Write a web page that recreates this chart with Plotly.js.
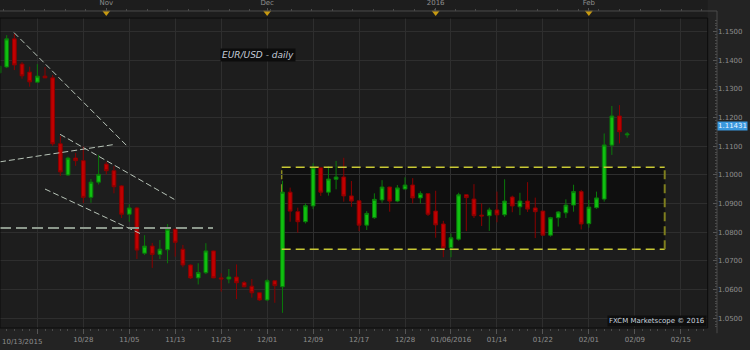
<!DOCTYPE html>
<html>
<head>
<meta charset="utf-8">
<script src="https://cdn.plot.ly/plotly-3.0.1.min.js"></script>
<style>html,body{margin:0;padding:0;background:#232323;}#chart{width:750px;height:350px;}</style>
</head>
<body>
<div id="chart"></div>
<script>
// Trading days (one candle each)
const dates = [
"2015-10-13","2015-10-14","2015-10-15","2015-10-16","2015-10-19","2015-10-20","2015-10-21","2015-10-22","2015-10-23","2015-10-26","2015-10-27","2015-10-28","2015-10-29","2015-10-30",
"2015-11-02","2015-11-03","2015-11-04","2015-11-05","2015-11-06","2015-11-09","2015-11-10","2015-11-11","2015-11-12","2015-11-13","2015-11-16","2015-11-17","2015-11-18","2015-11-19","2015-11-20","2015-11-23","2015-11-24","2015-11-25","2015-11-26","2015-11-27","2015-11-30",
"2015-12-01","2015-12-02","2015-12-03","2015-12-04","2015-12-07","2015-12-08","2015-12-09","2015-12-10","2015-12-11","2015-12-14","2015-12-15","2015-12-16","2015-12-17","2015-12-18","2015-12-21","2015-12-22","2015-12-23","2015-12-24","2015-12-28","2015-12-29","2015-12-30","2015-12-31",
"2016-01-04","2016-01-05","2016-01-06","2016-01-07","2016-01-08","2016-01-11","2016-01-12","2016-01-13","2016-01-14","2016-01-15","2016-01-18","2016-01-19","2016-01-20","2016-01-21","2016-01-22","2016-01-25","2016-01-26","2016-01-27","2016-01-28","2016-01-29",
"2016-02-01","2016-02-02","2016-02-03","2016-02-04","2016-02-05","2016-02-08"
];
const open = [1.1356,1.1377,1.1475,1.1387,1.1359,1.1324,1.1345,1.1339,1.1109,1.1000,1.1059,1.1050,1.0922,1.0975,
1.1038,1.1015,1.0962,1.0863,1.0885,1.0727,1.0752,1.0723,1.0739,1.0811,1.0741,1.0686,1.0641,1.0659,1.0735,1.0641,1.0637,1.0644,1.0625,1.0612,1.0589,
1.0564,1.0631,1.0610,1.0940,1.0872,1.0837,1.0892,1.1025,1.0940,1.0985,1.0993,1.0927,1.0910,1.0825,1.0851,1.0913,1.0958,1.0909,1.0951,1.0965,1.0920,1.0935,
1.0874,1.0829,1.0746,1.0776,1.0931,1.0916,1.0860,1.0858,1.0878,1.0861,1.0923,1.0889,1.0909,1.0885,1.0874,1.0790,1.0851,1.0868,1.0895,1.0942,
1.0830,1.0886,1.0916,1.1104,1.1206,1.1140];
const high = [1.1391,1.1488,1.1492,1.1394,1.1378,1.1387,1.1377,1.1349,1.1136,1.1064,1.1077,1.1099,1.0986,1.1070,
1.1046,1.1031,1.0965,1.0898,1.0889,1.0790,1.0763,1.0773,1.0829,1.0812,1.0756,1.0688,1.0692,1.0762,1.0736,1.0657,1.0672,1.0688,1.0630,1.0637,1.0590,
1.0636,1.0632,1.0980,1.0956,1.0886,1.0901,1.1041,1.1026,1.1031,1.1049,1.1060,1.0979,1.0911,1.0874,1.0936,1.0982,1.0959,1.0965,1.0992,1.0989,1.0943,1.0936,
1.0945,1.0840,1.0796,1.0938,1.0932,1.0968,1.0901,1.0886,1.0942,1.0985,1.0928,1.0938,1.0975,1.0921,1.0875,1.0854,1.0874,1.0915,1.0966,1.0948,
1.0913,1.0942,1.1145,1.1241,1.1244,1.1150];
const low = [1.1349,1.1373,1.1366,1.1336,1.1308,1.1322,1.1338,1.1102,1.0997,1.0997,1.1032,1.0902,1.0903,1.0967,
1.1002,1.0936,1.0850,1.0837,1.0707,1.0721,1.0676,1.0707,1.0692,1.0715,1.0678,1.0637,1.0618,1.0654,1.0640,1.0593,1.0622,1.0567,1.0608,1.0572,1.0561,
1.0560,1.0554,1.0519,1.0837,1.0799,1.0831,1.0881,1.0927,1.0928,1.0950,1.0907,1.0889,1.0804,1.0808,1.0847,1.0903,1.0872,1.0905,1.0950,1.0901,1.0901,1.0857,
1.0781,1.0713,1.0713,1.0771,1.0804,1.0850,1.0822,1.0805,1.0835,1.0854,1.0870,1.0860,1.0871,1.0780,1.0789,1.0785,1.0820,1.0850,1.0872,1.0810,
1.0816,1.0882,1.0907,1.1070,1.1110,1.1130];
const close = [1.1380,1.1475,1.1384,1.1346,1.1325,1.1345,1.1339,1.1109,1.1011,1.1059,1.1050,1.0922,1.0975,1.1002,
1.1015,1.0959,1.0863,1.0885,1.0738,1.0752,1.0723,1.0741,1.0811,1.0765,1.0686,1.0641,1.0660,1.0735,1.0641,1.0637,1.0644,1.0624,1.0610,1.0589,1.0564,
1.0631,1.0614,1.0940,1.0874,1.0837,1.0893,1.1025,1.0940,1.0986,1.0993,1.0927,1.0909,1.0825,1.0866,1.0915,1.0958,1.0909,1.0955,1.0965,1.0920,1.0935,1.0863,
1.0826,1.0746,1.0781,1.0931,1.0921,1.0858,1.0857,1.0878,1.0861,1.0909,1.0892,1.0909,1.0881,1.0872,1.0790,1.0851,1.0871,1.0895,1.0942,1.0829,
1.0888,1.0920,1.1105,1.1206,1.1151,1.11431];

// Bottom axis labels (bar index positions; future dates continue past the last bar)
const bottomTickIdx = [5, 11, 17, 23, 29, 35, 41, 47, 53, 59, 65, 71, 77, 83, 89];
const bottomTickText = ["", "10/28", "11/05", "11/13", "11/23", "12/01", "12/09", "12/17", "12/28", "01/06/2016", "01/14", "01/22", "02/01", "02/09", "02/15"];
const firstLabel = "10/13/2015";
// Top axis (month markers)
const topTickIdx = [14, 35, 57, 77];
const topTickText = ["Nov", "Dec", "2016", "Feb"];
// Y axis ticks
const yTicks = [1.05, 1.06, 1.07, 1.08, 1.09, 1.10, 1.11, 1.12, 1.13, 1.14, 1.15];

// Drawn studies (bar index, price)
const trendLines = [
  {x: [1.95, 16.87], y: [1.1497, 1.1097]},
  {x: [7.96, 22.88], y: [1.1142, 1.0915]},
  {x: [0.125, 14.92], y: [1.1046, 1.1106]},
  {x: [6.0, 18.4], y: [1.0951, 1.0796]}
];
const hLine = {x: [0.125, 27.93], y: 1.0815};
const rangeBox = {x: [36.9, 86.9], y: [1.0741, 1.1027]};

const idx = dates.map((d, i) => i);

const candles = {
  type: 'candlestick',
  x: idx, open: open, high: high, low: low, close: close,
  increasing: {line: {color: '#0a7a0a', width: 1}, fillcolor: '#10c010'},
  decreasing: {line: {color: '#8a0000', width: 1}, fillcolor: '#c00000'},
  whiskerwidth: 0,
  hoverinfo: 'skip',
  xaxis: 'x', yaxis: 'y',
  showlegend: false
};

const markers = {
  type: 'scatter', mode: 'markers',
  x: topTickIdx, y: topTickIdx.map(() => 0.3),
  marker: {symbol: 'triangle-down', size: 7, color: '#c89a10', line: {width: 0}},
  xaxis: 'x2', yaxis: 'y3', hoverinfo: 'skip', showlegend: false
};

const shapes = [];
// range box fill + dashed edges
shapes.push({type: 'rect', xref: 'x', yref: 'y', x0: rangeBox.x[0], x1: rangeBox.x[1], y0: rangeBox.y[0], y1: rangeBox.y[1],
  fillcolor: '#0f0f0f', line: {width: 0}, layer: 'below'});
shapes.push({type: 'line', xref: 'x', yref: 'y', x0: rangeBox.x[0], x1: rangeBox.x[1], y0: rangeBox.y[1], y1: rangeBox.y[1],
  line: {color: '#c8c834', width: 1.5, dash: '9px,5px'}});
shapes.push({type: 'line', xref: 'x', yref: 'y', x0: rangeBox.x[0], x1: rangeBox.x[1], y0: rangeBox.y[0], y1: rangeBox.y[0],
  line: {color: '#c8c834', width: 1.5, dash: '9px,5px'}});
shapes.push({type: 'line', xref: 'x', yref: 'y', x0: rangeBox.x[1], x1: rangeBox.x[1], y0: rangeBox.y[0], y1: rangeBox.y[1],
  line: {color: '#7e7e1e', width: 2, dash: '9px,5px'}});
shapes.push({type: 'line', xref: 'x', yref: 'y', x0: rangeBox.x[0], x1: rangeBox.x[0], y0: rangeBox.y[0], y1: rangeBox.y[1],
  line: {color: '#8a8a20', width: 1.5, dash: '9px,5px'}, layer: 'below'});
// trend lines
trendLines.forEach(t => shapes.push({type: 'line', xref: 'x', yref: 'y', x0: t.x[0], x1: t.x[1], y0: t.y[0], y1: t.y[1],
  line: {color: '#b8c4b8', width: 1, dash: '6px,3px'}}));
shapes.push({type: 'line', xref: 'x', yref: 'y', x0: hLine.x[0], x1: hLine.x[1], y0: hLine.y, y1: hLine.y,
  line: {color: '#8c988c', width: 2, dash: '11px,5px'}});
// plot frame
shapes.push({type: 'rect', xref: 'x domain', yref: 'y domain', x0: 0, x1: 1, y0: 0, y1: 1,
  line: {color: '#0c0c0c', width: 1}, fillcolor: 'rgba(0,0,0,0)'});
// outer frame (top strip line and right axis line)
shapes.push({type: 'line', xref: 'paper', yref: 'paper', x0: 0, x1: 1, y0: 0.9665, y1: 0.9665,
  line: {color: '#4a4a4a', width: 1}});
shapes.push({type: 'line', xref: 'paper', yref: 'paper', x0: 1, x1: 1, y0: -0.016, y1: 0.9665,
  line: {color: '#4a4a4a', width: 1}});

const fontFam = 'DejaVu Sans, Verdana, sans-serif';
const layout = {
  width: 750, height: 350,
  margin: {l: 0, r: 33, t: 0, b: 22, pad: 0},
  paper_bgcolor: '#232323',
  plot_bgcolor: '#1d1d1d',
  showlegend: false,
  font: {family: fontFam, size: 7, color: '#8e8e8e'},
  xaxis: {
    domain: [0, 0.987], anchor: 'y',
    range: [0.125, 92.51],
    rangeslider: {visible: false},
    tickmode: 'array', tickvals: bottomTickIdx, ticktext: bottomTickText,
    showgrid: true, gridcolor: '#2e2e2e', gridwidth: 1,
    ticks: 'outside', ticklen: 5, tickcolor: '#555', tickwidth: 1,
    minor: {tickmode: 'linear', tick0: 0, dtick: 1, ticks: 'outside', ticklen: 2, tickcolor: '#4a4a4a', showgrid: false},
    showline: false, zeroline: false, fixedrange: true,
    tickfont: {family: fontFam, size: 7, color: '#8e8e8e'}
  },
  xaxis2: {
    domain: [0, 0.987], overlaying: 'x', anchor: 'free', position: 0.9665, side: 'top',
    range: [0.125, 92.51],
    tickmode: 'array', tickvals: topTickIdx, ticktext: topTickText,
    ticks: 'outside', ticklen: 3, tickcolor: '#555',
    minor: {tickmode: 'linear', tick0: 14, dtick: 2.68, ticks: 'outside', ticklen: 2, tickcolor: '#4a4a4a', showgrid: false},
    showgrid: false, showline: false, zeroline: false,
    tickfont: {family: fontFam, size: 7, color: '#8e8e8e'}
  },
  yaxis: {
    domain: [0, 0.9451], anchor: 'free', position: 1, side: 'right',
    range: [1.04661, 1.15478],
    tickmode: 'array', tickvals: yTicks, tickformat: '.4f',
    showgrid: true, gridcolor: '#2e2e2e', gridwidth: 1,
    ticks: 'inside', ticklen: 4, tickcolor: '#555',
    minor: {tickmode: 'linear', tick0: 1.05, dtick: 0.001, ticks: 'inside', ticklen: 2, tickcolor: '#4a4a4a', showgrid: false},
    showline: false, zeroline: false,
    tickfont: {family: fontFam, size: 7, color: '#8e8e8e'}
  },
  yaxis3: {
    domain: [0.9451, 1], anchor: 'x2', range: [0, 1], visible: false
  },
  shapes: shapes,
  annotations: [
    {text: 'EUR/USD - daily', xref: 'paper', yref: 'paper', x: 0.36, y: 0.832, xanchor: 'center', yanchor: 'middle',
     showarrow: false, font: {family: fontFam, size: 9, color: '#c4cbd8', style: 'italic'}, bgcolor: '#0c0c0c', borderpad: 1},
    {text: 'FXCM Marketscope © 2016', xref: 'paper', yref: 'paper', x: 0.986, y: 0.003, xanchor: 'right', yanchor: 'bottom',
     showarrow: false, font: {family: fontFam, size: 7, color: '#c8d2de'}, bgcolor: '#0e0e0e', borderpad: 1},
    {text: firstLabel, xref: 'paper', yref: 'paper', x: 0, y: -0.043, xanchor: 'left', yanchor: 'middle',
     showarrow: false, font: {family: fontFam, size: 7, color: '#8e8e8e'}},
    {text: close[close.length - 1].toFixed(5), xref: 'paper', yref: 'y', x: 1.0, y: close[close.length - 1], yshift: 8,
     xanchor: 'left', yanchor: 'middle', showarrow: false, height: 8,
     font: {family: fontFam, size: 7, color: '#eaf4ff'}, bgcolor: '#3a98de', borderpad: 0}
  ]
};

Plotly.newPlot('chart', [candles, markers], layout, {staticPlot: true, displayModeBar: false});
</script>
</body>
</html>
